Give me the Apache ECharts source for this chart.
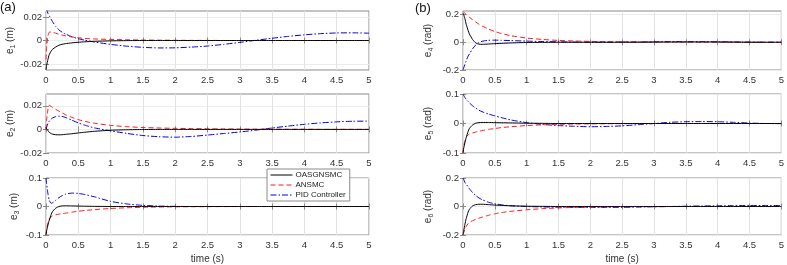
<!DOCTYPE html>
<html>
<head>
<meta charset="utf-8">
<script src="https://cdn.jsdelivr.net/npm/echarts@6/dist/echarts.min.js"></script>
<style>
  html, body { margin: 0; padding: 0; background: #fff; }
  #main { width: 787px; height: 265px; }
</style>
</head>
<body>
<div id="main"></div>
<script>
// sample times (s)
var time = [0, 0.01, 0.03, 0.05, 0.08, 0.1, 0.15, 0.2, 0.25, 0.3, 0.4, 0.5, 0.6, 0.75, 1, 1.25, 1.5, 1.75, 2, 2.25, 2.5, 2.75, 3, 3.25, 3.5, 3.75, 4, 4.25, 4.5, 4.75, 5];
var xTicks = [0, 0.5, 1, 1.5, 2, 2.5, 3, 3.5, 4, 4.5, 5];
var seriesNames = ['OASGNSMC', 'ANSMC', 'PID Controller'];

// e1 (m)
var e1Oas = [-0.025, -0.021, -0.016, -0.012, -0.009, -0.0075, -0.0055, -0.004, -0.0032, -0.0027, -0.002, -0.0015, -0.0011, -0.0007, -0.0003, -0.0001, 0, 0, 0, 0, 0, 0, 0, 0, 0, 0, 0, 0, 0, 0, 0];
var e1Ans = [-0.016, -0.005, 0.004, 0.007, 0.0072, 0.007, 0.0062, 0.0053, 0.0046, 0.004, 0.003, 0.0023, 0.0018, 0.0013, 0.0009, 0.0006, 0.0004, 0.0003, 0.0002, 0.0001, 0.0001, 0, 0, 0, 0, 0, 0, 0, 0, 0, 0];
var e1Pid = [0.027, 0.026, 0.023, 0.021, 0.018, 0.016, 0.012, 0.009, 0.007, 0.0055, 0.0032, 0.0015, 0.0003, -0.0013, -0.0033, -0.0048, -0.0058, -0.0063, -0.0062, -0.0056, -0.0047, -0.0033, -0.0016, 0.0002, 0.0019, 0.0035, 0.0048, 0.0058, 0.0064, 0.0065, 0.0062];
// e2 (m)
var e2Oas = [0.002, 0.0005, -0.001, -0.0025, -0.0035, -0.004, -0.0045, -0.0046, -0.0045, -0.0042, -0.0037, -0.003, -0.0024, -0.0016, -0.0007, -0.0003, -0.0001, 0, 0, 0, 0, 0, 0, 0, 0, 0, 0, 0, 0, 0, 0];
var e2Ans = [0, 0.008, 0.017, 0.0205, 0.0195, 0.0185, 0.017, 0.0155, 0.014, 0.0125, 0.0102, 0.0083, 0.0068, 0.0052, 0.0034, 0.0023, 0.0016, 0.0012, 0.0009, 0.0007, 0.0005, 0.0004, 0.0003, 0.0002, 0.0002, 0.0001, 0.0001, 0, 0, 0, 0];
var e2Pid = [0, 0.002, 0.005, 0.007, 0.0088, 0.0097, 0.0108, 0.0112, 0.011, 0.0102, 0.0078, 0.0055, 0.0036, 0.0013, -0.0012, -0.0034, -0.0052, -0.0062, -0.0066, -0.006, -0.0048, -0.0035, -0.0022, -0.0006, 0.0012, 0.0028, 0.0043, 0.0055, 0.0064, 0.0069, 0.007];
// e3 (m)
var e3Oas = [-0.1, -0.085, -0.065, -0.048, -0.028, -0.018, -0.006, 0, 0.002, 0.0025, 0.002, 0.0015, 0.001, 0.0005, 0, 0, 0, 0, 0, 0, 0, 0, 0, 0, 0, 0, 0, 0, 0, 0, 0];
var e3Ans = [-0.1, -0.08, -0.058, -0.045, -0.036, -0.033, -0.029, -0.027, -0.025, -0.0235, -0.02, -0.0165, -0.014, -0.011, -0.007, -0.0045, -0.0028, -0.0018, -0.0012, -0.0008, -0.0005, -0.0003, -0.0002, -0.0001, 0, 0, 0, 0, 0, 0, 0];
var e3Pid = [0.1, 0.08, 0.045, 0.022, 0.011, 0.013, 0.022, 0.031, 0.038, 0.043, 0.047, 0.046, 0.042, 0.034, 0.018, 0.009, 0.004, 0.0015, 0.0005, 0, 0, 0, 0, 0, 0, 0, 0, 0, 0, 0, 0];
// e4 (rad)
var e4Oas = [0.21, 0.2, 0.17, 0.13, 0.085, 0.06, 0.02, -0.005, -0.014, -0.015, -0.013, -0.01, -0.008, -0.005, -0.002, -0.001, 0, 0, 0, 0, 0, 0, 0.001, 0.002, 0.002, 0.002, 0.002, 0.001, 0, 0, 0];
var e4Ans = [0.222, 0.218, 0.21, 0.2, 0.188, 0.18, 0.162, 0.145, 0.13, 0.117, 0.095, 0.077, 0.063, 0.047, 0.03, 0.02, 0.013, 0.009, 0.006, 0.004, 0.003, 0.002, 0.0015, 0.001, 0.001, 0.0005, 0.0005, 0, 0, 0, 0];
var e4Pid = [-0.2, -0.185, -0.16, -0.135, -0.1, -0.085, -0.048, -0.02, -0.003, 0.007, 0.014, 0.015, 0.014, 0.012, 0.008, 0.005, 0.003, 0.001, 0, 0, 0.001, 0.002, 0.003, 0.004, 0.004, 0.004, 0.003, 0.002, 0.001, 0, 0];
// e5 (rad)
var e5Oas = [-0.1, -0.085, -0.065, -0.048, -0.027, -0.017, -0.005, 0.001, 0.003, 0.0035, 0.0035, 0.003, 0.0025, 0.002, 0.001, 0.0005, 0, 0, 0, 0, 0, 0, 0, 0, 0, 0, 0, 0, 0, 0, 0];
var e5Ans = [-0.1, -0.08, -0.058, -0.046, -0.039, -0.036, -0.032, -0.029, -0.026, -0.024, -0.02, -0.017, -0.014, -0.011, -0.007, -0.0045, -0.0028, -0.0018, -0.0012, -0.0008, -0.0005, -0.0003, -0.0002, 0, 0, 0, 0, 0, 0, 0, 0];
var e5Pid = [0.1, 0.096, 0.088, 0.082, 0.075, 0.07, 0.06, 0.052, 0.045, 0.04, 0.032, 0.026, 0.02, 0.012, 0.003, -0.003, -0.007, -0.0095, -0.011, -0.01, -0.008, -0.004, 0, 0.004, 0.006, 0.0065, 0.006, 0.004, 0.0015, 0, -0.0005];
// e6 (rad)
var e6Oas = [-0.2, -0.175, -0.125, -0.085, -0.04, -0.02, 0.004, 0.013, 0.016, 0.016, 0.013, 0.01, 0.008, 0.005, 0.002, 0.001, 0, 0, 0, 0, 0, 0, 0, 0, 0, 0, 0, 0, 0, 0, 0];
var e6Ans = [-0.2, -0.185, -0.16, -0.14, -0.12, -0.112, -0.1, -0.09, -0.082, -0.075, -0.062, -0.051, -0.043, -0.034, -0.023, -0.015, -0.01, -0.0065, -0.0045, -0.003, -0.002, -0.0015, -0.001, -0.0005, 0, 0, 0, 0, 0, 0, 0];
var e6Pid = [0.2, 0.19, 0.17, 0.155, 0.14, 0.125, 0.098, 0.077, 0.06, 0.048, 0.03, 0.019, 0.012, 0.005, 0, -0.003, -0.005, -0.006, -0.0065, -0.0065, -0.006, -0.004, -0.002, 0, 0.002, 0.004, 0.005, 0.006, 0.0065, 0.007, 0.007];

// y axis ranges / tick labels per panel
var yMin = [-0.025, -0.02, -0.1, -0.2, -0.1, -0.2];
var yMax = [0.025, 0.03, 0.1, 0.225, 0.1, 0.2];
var yTicks = [[-0.02, 0, 0.02], [-0.02, 0, 0.02], [-0.1, 0, 0.1], [-0.2, 0, 0.2], [-0.1, 0, 0.1], [-0.2, 0, 0.2]];
var yNames = ['e{s|1} (m)', 'e{s|2} (m)', 'e{s|3} (m)', 'e{s|4} (rad)', 'e{s|5} (rad)', 'e{s|6} (rad)'];

var panels = [
    [e1Oas, e1Ans, e1Pid], [e2Oas, e2Ans, e2Pid], [e3Oas, e3Ans, e3Pid],
    [e4Oas, e4Ans, e4Pid], [e5Oas, e5Ans, e5Pid], [e6Oas, e6Ans, e6Pid]
];

var chart = echarts.init(document.getElementById('main'));
var font = 'Liberation Sans, Arial, sans-serif';
var boxColor = '#8a8a8a';
var colors = ['#000000', '#ff1a1a', '#0000e0'];
var dashes = ['solid', [5, 3], [6, 2, 1.5, 2]];

var gridTops = [11, 94, 178];
var grids = [], xAxes = [], yAxes = [], series = [];

for (var i = 0; i < 6; i++) {
    var col = i < 3 ? 0 : 1;
    var row = i % 3;
    grids.push({
        left: col === 0 ? 46 : 463,
        width: col === 0 ? 323 : 322,
        top: gridTops[row],
        height: 59,
        show: true,
        borderColor: boxColor,
        borderWidth: 1,
        backgroundColor: '#fff'
    });
    var isBottom = row === 2;
    xAxes.push({
        type: 'value', gridIndex: i, min: 0, max: 5, position: 'bottom',
        axisLine: { show: false },
        axisTick: { inside: true, length: 3, lineStyle: { color: boxColor }, customValues: xTicks },
        axisLabel: { fontSize: 9.5, color: '#333', margin: 5, fontFamily: font, customValues: xTicks },
        splitLine: { show: true, lineStyle: { color: '#e3e3e3', width: 1 } },
        name: isBottom ? 'time (s)' : '',
        nameLocation: 'middle', nameGap: 19,
        nameTextStyle: { fontSize: 10, color: '#333', fontFamily: font }
    });
    xAxes.push({
        type: 'value', gridIndex: i, min: 0, max: 5, position: 'top',
        axisLine: { show: false },
        axisTick: { inside: true, length: 3, lineStyle: { color: boxColor }, customValues: xTicks },
        axisLabel: { show: false, customValues: xTicks },
        splitLine: { show: false }
    });
    yAxes.push({
        type: 'value', gridIndex: i, min: yMin[i], max: yMax[i], position: 'left',
        axisLine: { show: false },
        axisTick: { inside: true, length: 3, lineStyle: { color: boxColor }, customValues: yTicks[i] },
        axisLabel: { fontSize: 9.5, color: '#333', margin: 4, fontFamily: font, customValues: yTicks[i] },
        splitLine: { show: true, lineStyle: { color: '#ececec', width: 1 } },
        name: yNames[i], nameLocation: 'middle', nameRotate: 90,
        nameGap: col === 0 ? 25 : 28,
        nameTextStyle: {
            fontSize: 10, color: '#333', fontFamily: font,
            rich: { s: { fontSize: 7, color: '#333', fontFamily: font, padding: [6, 0, 0, 0] } }
        }
    });
    yAxes.push({
        type: 'value', gridIndex: i, min: yMin[i], max: yMax[i], position: 'right',
        axisLine: { show: false },
        axisTick: { inside: true, length: 3, lineStyle: { color: boxColor }, customValues: yTicks[i] },
        axisLabel: { show: false, customValues: yTicks[i] },
        splitLine: { show: false }
    });
    for (var k = 0; k < 3; k++) {
        var vals = panels[i][k];
        series.push({
            name: seriesNames[k],
            type: 'line',
            xAxisIndex: i * 2,
            yAxisIndex: i * 2,
            data: time.map(function (t, j) { return [t, vals[j]]; }),
            symbol: 'none',
            smooth: 0.2,
            clip: true,
            z: 3 - k + 2,
            lineStyle: { color: colors[k], width: 1, type: dashes[k] },
            itemStyle: { color: colors[k] }
        });
    }
}

var option = {
    backgroundColor: '#fff',
    animation: false,
    grid: grids,
    xAxis: xAxes,
    yAxis: yAxes,
    series: series,
    legend: {
        data: seriesNames,
        orient: 'vertical',
        left: 267,
        top: 169,
        itemWidth: 22,
        itemHeight: 8,
        itemGap: 2,
        padding: [2, 4, 2, 3],
        backgroundColor: '#fff',
        borderColor: boxColor,
        borderWidth: 1,
        z: 20,
        itemStyle: { opacity: 0 },
        lineStyle: { width: 1 },
        textStyle: { fontSize: 8, color: '#222', fontFamily: font, padding: [0, 0, 0, -2] }
    },
    graphic: [
        { type: 'text', left: 0, top: 1, style: { text: '(a)', fontSize: 13, fill: '#111', fontFamily: font } },
        { type: 'text', left: 415, top: 2, style: { text: '(b)', fontSize: 13, fill: '#111', fontFamily: font } }
    ]
};

chart.setOption(option);
</script>
</body>
</html>
